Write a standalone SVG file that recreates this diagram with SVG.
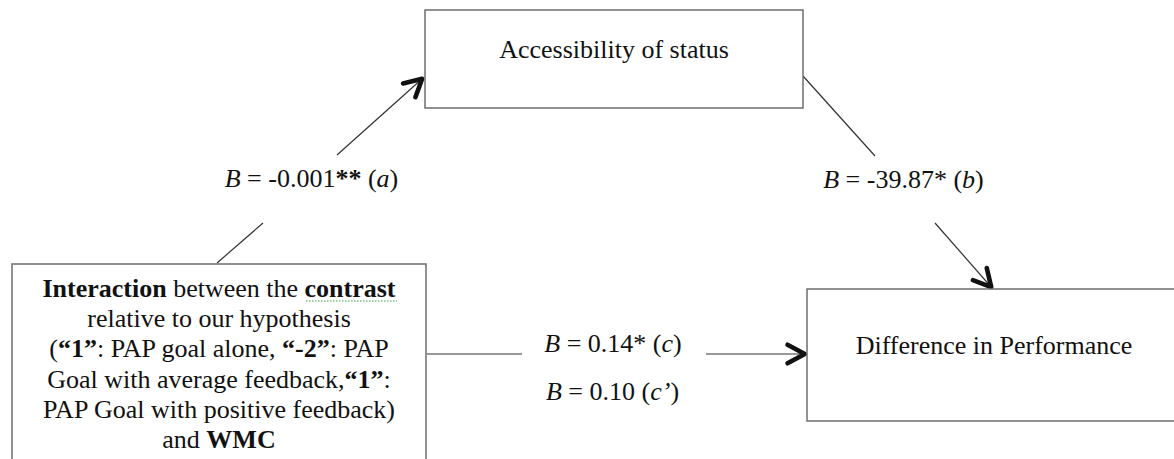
<svg xmlns="http://www.w3.org/2000/svg" width="1174" height="459" viewBox="0 0 1174 459">
<style>
.box{fill:#fff;stroke:#6e6e6e;stroke-width:1.5}
.t{font-family:'Liberation Serif',Tinos,'Times New Roman',Times,'DejaVu Serif',serif;font-size:26px;fill:#111;text-anchor:middle}
.b{font-weight:bold}
.i{font-style:italic}
.ln{stroke:#333;stroke-width:1.2;fill:none}
.sq{stroke:#3aa34a;stroke-width:1;stroke-dasharray:1.5 1.5;fill:none}
</style>
<defs>
<marker id="ah" markerUnits="userSpaceOnUse" markerWidth="30" markerHeight="30" viewBox="-22 -12 26 24" refX="0" refY="0" orient="auto">
<path d="M-16 -8 L-1 0 L-16 8" fill="none" stroke="#111" stroke-width="4" stroke-linecap="round" stroke-linejoin="round"/>
</marker>
</defs>
<g id="connectors">
<line class="ln" x1="217" y1="263" x2="263" y2="223"/>
<line class="ln" x1="337" y1="155" x2="423" y2="78" marker-end="url(#ah)"/>
<line class="ln" x1="803" y1="76" x2="875" y2="156"/>
<line class="ln" x1="935" y1="223" x2="992" y2="288" marker-end="url(#ah)"/>
<line class="ln" x1="427" y1="354" x2="522" y2="354"/>
<line class="ln" x1="706" y1="354" x2="806" y2="354" marker-end="url(#ah)"/>
</g>
<g font-family="Liberation Serif, serif">
<g id="label-a"><text class="t" x="311.5" y="187"><tspan class="i">B</tspan> = -0.001<tspan class="b">**</tspan> (<tspan class="i">a</tspan>)</text></g>
<g id="label-b"><text class="t" x="903.5" y="188"><tspan class="i">B</tspan> = -39.87* (<tspan class="i">b</tspan>)</text></g>
<g id="label-c"><text class="t" x="613" y="352"><tspan class="i">B</tspan> = 0.14* (<tspan class="i">c</tspan>)</text>
<text class="t" x="612.5" y="400"><tspan class="i">B</tspan> = 0.10 (<tspan class="i">c’</tspan>)</text></g>
<g id="node-accessibility">
<rect class="box" x="425" y="10" width="378" height="98"/>
<text class="t" x="614" y="58">Accessibility of status</text>
</g>
<g id="node-performance">
<rect class="box" x="807" y="289" width="380" height="132"/>
<text class="t" x="994" y="354">Difference in Performance</text>
</g>
<g id="node-interaction">
<rect class="box" x="12" y="264" width="414" height="210"/>
<text class="t" x="219" y="297"><tspan class="b">Interaction</tspan> between the <tspan class="b">contrast</tspan></text>
<path class="sq" d="M306 301 L397 301"/>
<text class="t" x="219" y="327">relative to our hypothesis</text>
<text class="t" x="219" y="357">(<tspan class="b">“1”</tspan>: PAP goal alone, <tspan class="b">“-2”</tspan>: PAP</text>
<text class="t" x="219" y="388">Goal with average feedback,<tspan class="b">“1”</tspan>:</text>
<text class="t" x="219" y="418">PAP Goal with positive feedback)</text>
<text class="t" x="219" y="448">and <tspan class="b">WMC</tspan></text>
</g>
</g>
</svg>
